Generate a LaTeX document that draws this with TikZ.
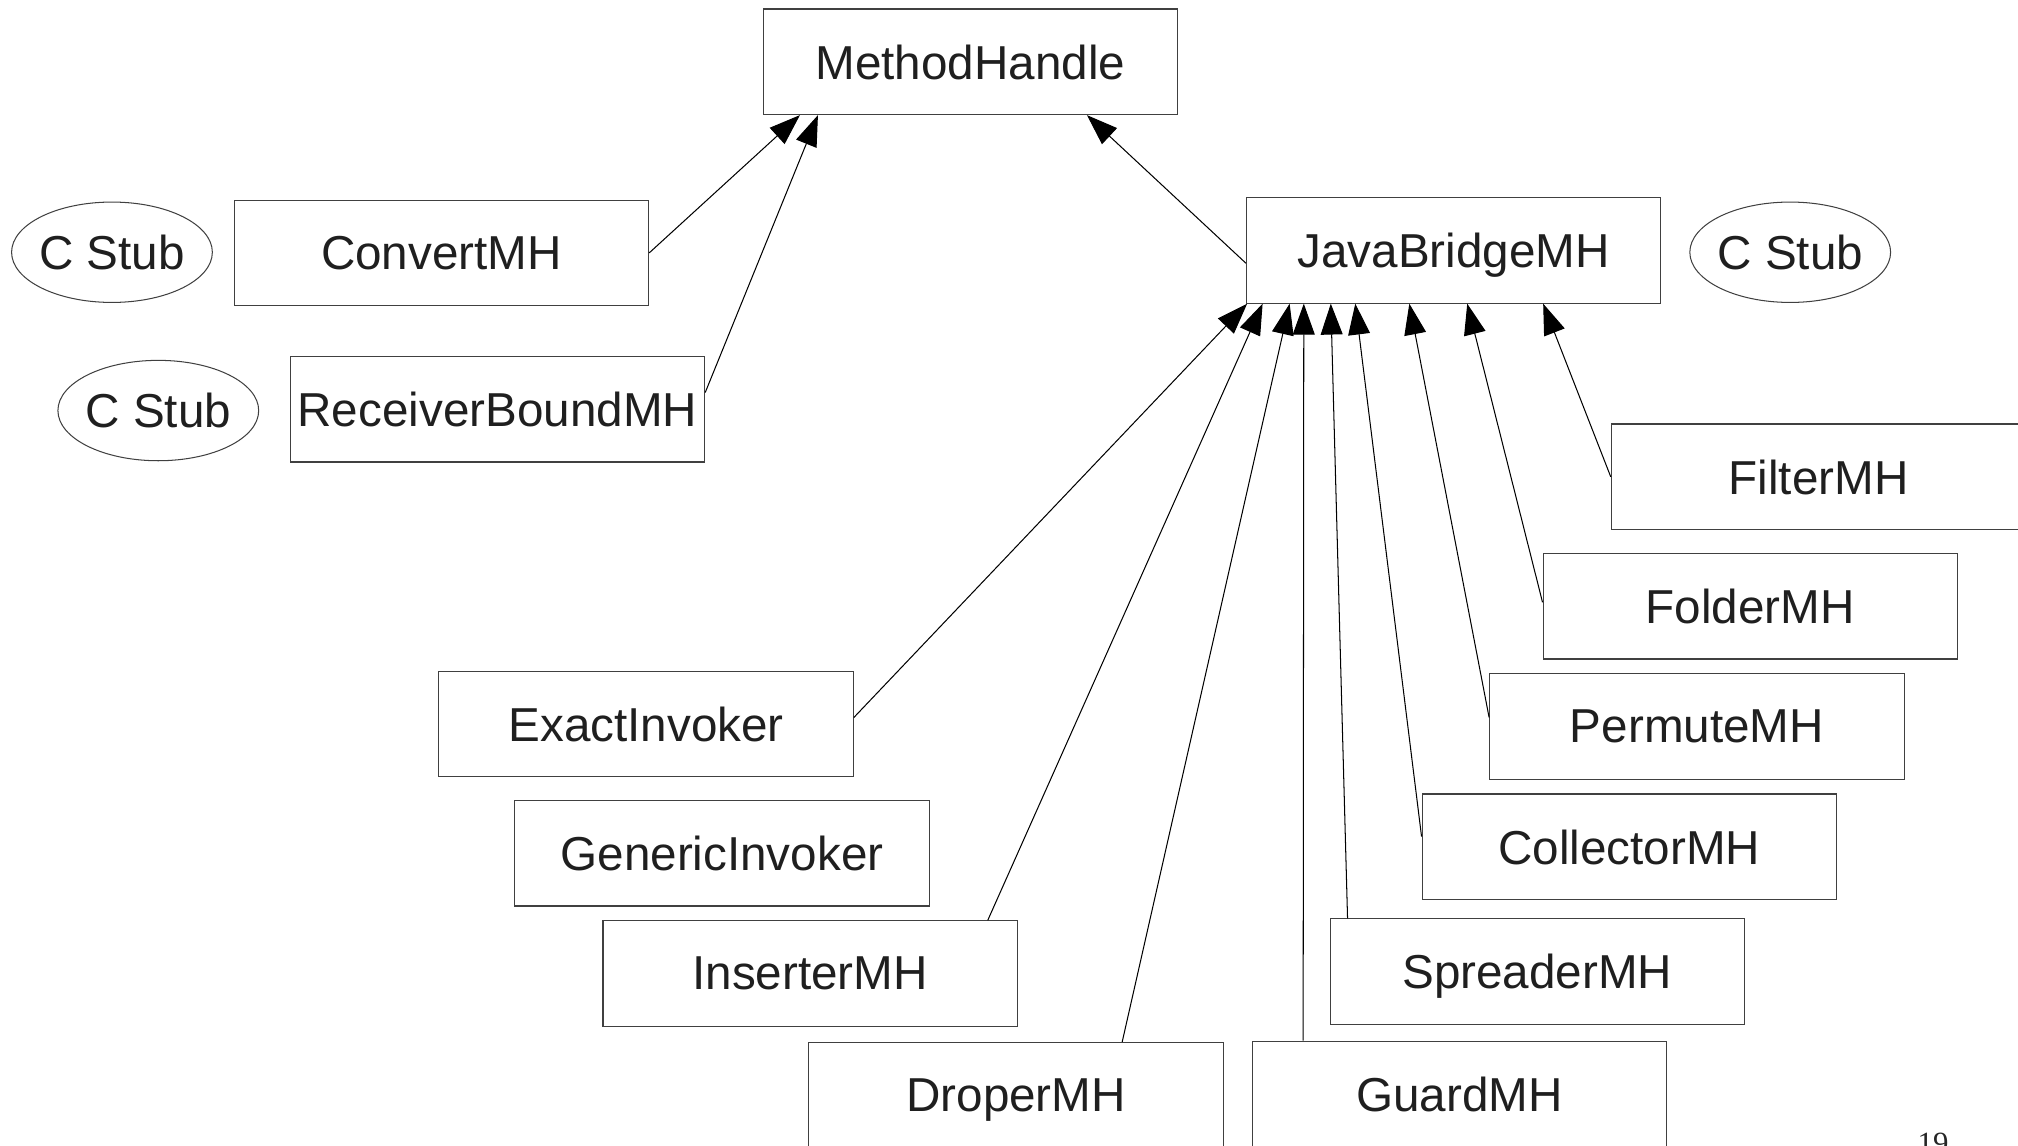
\documentclass[tikz,border=0pt]{standalone}
\usepackage{fontspec}
\setmainfont{Liberation Sans}
\newfontfamily\pagenumfont{Liberation Serif}
\usetikzlibrary{positioning,arrows.meta,shapes.geometric}

\begin{document}
\begin{tikzpicture}[x=1pt,y=-1pt,
  font=\fontsize{37}{44}\selectfont,
  cls/.style={draw=black!75,line width=0.9pt,minimum width=322pt,minimum height=82pt,text=black!88,inner sep=0pt,text depth=0pt},
  stub/.style={ellipse,draw=black!75,line width=0.8pt,minimum width=156pt,minimum height=78pt,text=black!88,inner ysep=0pt,inner xsep=-1.5pt,text depth=0pt},
  inh/.style={draw=black,line width=0.8pt,-{Triangle[length=24pt,width=17pt]}}]
\clip (0,0) rectangle (1568,890);
% top of the hierarchy
\node[cls] (mh) at (754,48) {MethodHandle};
\node[cls] (convert) at (343,196.5) {ConvertMH};
\node[cls] (receiver) at (386.5,318) {ReceiverBoundMH};
\node[stub] (stubA) at (87,196) {C Stub};
\node[stub] (stubB) at (123,319) {C Stub};
\node[cls] (jb) at (1129.5,194.5) {JavaBridgeMH};
\node[stub] (stubC) at (1391,196) {C Stub};
% subclasses of JavaBridgeMH
\node[cls] (filter) at (1413,370.5) {FilterMH};
\node[cls] (folder) at (1360,471) {FolderMH};
\node[cls] (permute) at (1318.5,564.5) {PermuteMH};
\node[cls] (collector) at (1266,658) {CollectorMH};
\node[cls] (spreader) at (1194.5,755) {SpreaderMH};
\node[cls] (guard) at (1134,850) {GuardMH};
\node[cls] (droper) at (789.5,851) {DroperMH};
\node[cls] (inserter) at (629.5,756.5) {InserterMH};
\node[cls] (generic) at (561,663) {GenericInvoker};
\node[cls] (exact) at (502,562.5) {ExactInvoker};
\node[anchor=base,font=\pagenumfont\fontsize{24}{28}\selectfont,text=black!85] (page) at (1502,896) {19};
% arrows
\draw[inh] (convert.east) -- ([xshift=29pt]mh.south west);
\draw[inh] ([yshift=13pt]receiver.east) -- ([xshift=43pt]mh.south west);
\draw[inh] ([yshift=-10pt]jb.west) -- ([xshift=252pt]mh.south west);
\draw[inh] ([yshift=5pt]exact.east) -- ([xshift=1pt]jb.south west);
\draw[inh] ([xshift=138pt]inserter.north) -- ([xshift=13pt]jb.south west);
\draw[inh] ([xshift=-79pt]droper.north east) -- ([xshift=34pt]jb.south west);
\draw[inh] ([xshift=40pt]guard.north west) -- ([xshift=45pt]jb.south west);
\draw[inh] ([xshift=14pt]spreader.north west) -- ([xshift=66pt]jb.south west);
\draw[inh] ([yshift=8pt]collector.west) -- ([xshift=85pt]jb.south west);
\draw[inh] ([yshift=7pt]permute.west) -- ([xshift=127pt]jb.south west);
\draw[inh] ([yshift=3pt]folder.west) -- ([xshift=172pt]jb.south west);
\draw[inh] (filter.west) -- ([xshift=231pt]jb.south west);
\end{tikzpicture}
\end{document}
